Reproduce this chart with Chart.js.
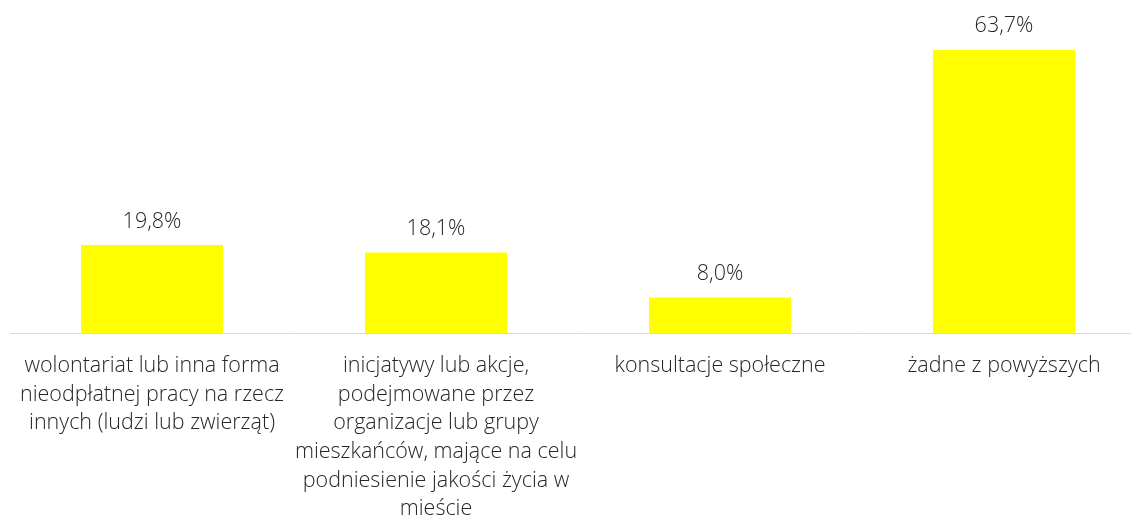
<!DOCTYPE html>
<html lang="pl">
<head>
<meta charset="utf-8">
<title>Udział w działaniach</title>
<script src="https://cdn.jsdelivr.net/npm/chart.js@4/dist/chart.umd.min.js"></script>
<style>
  html, body { margin: 0; padding: 0; background: #ffffff; overflow: hidden; }
  #wrap { position: relative; width: 1160px; height: 519px; }
</style>
</head>
<body>
<div id="wrap"><canvas id="chart"></canvas></div>
<script>
// Category labels, already split into the lines they are shown on
const categories = [
  ["wolontariat lub inna forma", "nieodpłatnej pracy na rzecz", "innych (ludzi lub zwierząt)"],
  ["inicjatywy lub akcje,", "podejmowane przez", "organizacje lub grupy", "mieszkańców, mające na celu", "podniesienie jakości życia w", "mieście"],
  ["konsultacje społeczne"],
  ["żadne z powyższych"]
];
// Share of respondents, in percent
const shares = [19.8, 18.1, 8.0, 63.7];

const TEXT = '#262626';
const FONT = '"Open Sans", "DejaVu Sans", sans-serif';
const SIZE = 21.5;

// Writes each bar's value above it, Polish decimal comma
const valueLabels = {
  id: 'valueLabels',
  afterDatasetsDraw(chart) {
    const ctx = chart.ctx;
    const meta = chart.getDatasetMeta(0);
    ctx.save();
    ctx.fillStyle = TEXT;
    ctx.font = '300 ' + SIZE + 'px ' + FONT;
    ctx.textAlign = 'center';
    ctx.textBaseline = 'alphabetic';
    meta.data.forEach((bar, i) => {
      const txt = shares[i].toFixed(1).replace('.', ',') + '%';
      ctx.fillText(txt, bar.x, bar.y - 17.5);
    });
    ctx.restore();
  }
};

new Chart(document.getElementById('chart'), {
  type: 'bar',
  data: {
    labels: categories,
    datasets: [{
      data: shares,
      backgroundColor: '#FFFF00',
      borderWidth: 0,
      categoryPercentage: 1.0,
      barPercentage: 0.5
    }]
  },
  options: {
    responsive: true,
    maintainAspectRatio: false,
    animation: false,
    layout: { padding: { top: 22, left: 10, right: 14, bottom: 0 } },
    plugins: {
      legend: { display: false },
      tooltip: { enabled: false }
    },
    scales: {
      x: {
        grid: { display: false, drawTicks: false },
        border: { display: true, color: '#d9d9d9', width: 1 },
        ticks: {
          color: TEXT,
          font: { family: FONT, size: SIZE, weight: '300', lineHeight: 28.7 / SIZE },
          padding: 18.5,
          maxRotation: 0,
          autoSkip: false
        },
        afterFit(scale) { scale.height = 186; }
      },
      y: {
        display: false,
        min: 0,
        max: 70
      }
    }
  },
  plugins: [valueLabels]
});
</script>
</body>
</html>
